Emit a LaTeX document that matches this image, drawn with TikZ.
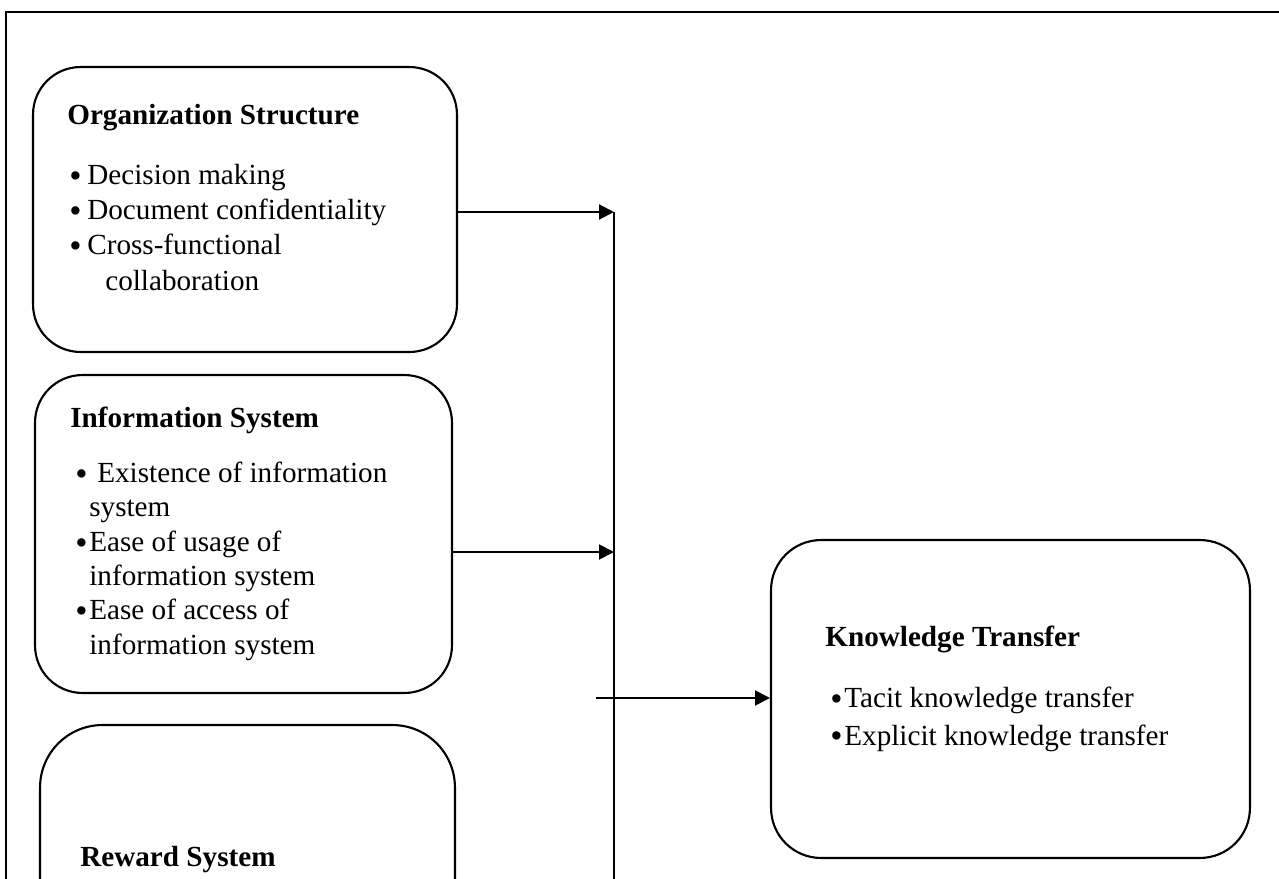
\documentclass[tikz,border=0pt]{standalone}
\usepackage{fontspec}
\setmainfont{Liberation Serif}
\usetikzlibrary{arrows.meta, positioning}
\newcommand{\bul}[1]{\makebox[#1][l]{\raisebox{-0.1em}{\scalebox{1.2}{\textbullet}}}}

\begin{document}
\begin{tikzpicture}[
  x=0.02cm, y=-0.02cm, >={Triangle[length=3mm, width=3mm]},
  card/.style={draw, line width=1.2pt, rounded corners=9.5mm, inner sep=0pt},
  ttl/.style={anchor=base west, inner sep=0pt, font=\fontsize{16.6}{20}\selectfont\bfseries},
  lst/.style={anchor=north west, inner sep=0pt, align=left},
  link/.style={->, line width=1.1pt}
]
\useasboundingbox (0,0) rectangle (1279,879);
\clip (0,0) rectangle (1279,879);
% the frame runs on past the right and bottom edges
\draw[line width=1.3pt] (6,12) rectangle (1330,950);

\node[card, minimum width=84.8mm, minimum height=57mm] (org) at (245,209.5) {};
\node[card, minimum width=83.4mm, minimum height=63.6mm] (info) at (243.5,534) {};
\node[card, minimum width=83mm, minimum height=72mm, rounded corners=12.5mm] (rew) at (247.5,905) {};
\node[card, minimum width=95.8mm, minimum height=63.6mm, rounded corners=10mm] (kt) at (1010.5,699) {};

\node[ttl] (orgT) at (67,124) {Organization Structure};
\node[lst, font=\fontsize{16.6}{20.1}\selectfont] (orgL) at (69,159.3)
  {\rule{0pt}{14pt}\bul{3.6mm}Decision making\\ \bul{3.6mm}Document confidentiality\\
   \bul{3.6mm}Cross-functional\\ \hspace{7.2mm}collaboration};

\node[ttl] (infoT) at (70,427) {Information System};
\node[lst, font=\fontsize{16.6}{19.6}\selectfont] (infoL) at (75,457.3)
  {\rule{0pt}{14pt}\bul{4.4mm}Existence of information\\ \hspace{2.8mm}system\\
   \bul{2.8mm}Ease of usage of\\ \hspace{2.8mm}information system\\
   \bul{2.8mm}Ease of access of\\ \hspace{2.8mm}information system};

\node[ttl] (rewT) at (80,866) {Reward System};

\node[ttl] (ktT) at (825,646) {Knowledge Transfer};
\node[lst, font=\fontsize{16.6}{21.5}\selectfont] (ktL) at (830,682.3)
  {\rule{0pt}{14pt}\bul{2.8mm}Tacit knowledge transfer\\ \bul{2.8mm}Explicit knowledge transfer};

\coordinate (bus) at (614,212);
\coordinate (busEnd) at (614,900);
\coordinate (in2) at (614,552);
\coordinate (tap) at (596,698);

\draw[line width=0.6pt] (bus) -- (busEnd);
\draw[link] (bus -| org.east) -- (bus);
\draw[link] (in2 -| info.east) -- (in2);
\draw[link] (tap) -- (tap -| kt.west);
\end{tikzpicture}
\end{document}
